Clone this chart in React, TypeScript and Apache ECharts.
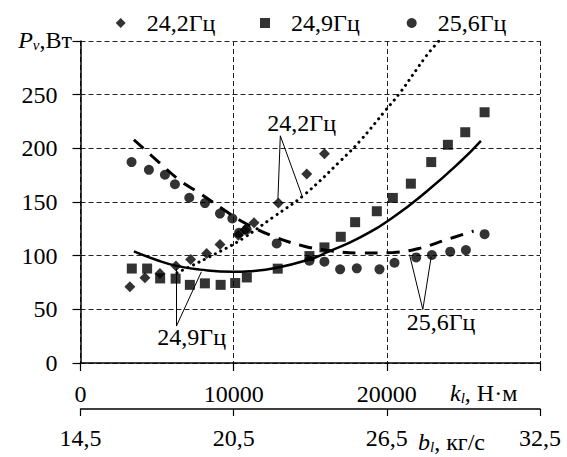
import React, { useEffect, useRef } from "react";
import * as echarts from "echarts";

// ---- data ----
const NAME_A = "24,2Гц";
const NAME_B = "24,9Гц";
const NAME_C = "25,6Гц";

// 24,2 Гц (diamonds)
const K_A = [3224, 4205, 5185, 6231, 7190, 8235, 9107, 10305, 10741, 11329, 12919, 14771, 15926];
const P_A = [71, 79.5, 83.5, 90.3, 96.5, 102, 110.5, 119, 123.8, 130.6, 149, 176, 195];

// 24,9 Гц (squares)
const K_B = [3350, 4350, 5200, 6210, 7140, 8120, 9150, 10100, 10860, 12876, 14946, 15926, 16993, 17930, 19346, 20392, 21569, 22898, 23987, 25120, 26383];
const P_B = [88, 88, 78.8, 78.6, 72.8, 74.2, 72.8, 74.5, 79.7, 87.9, 99.6, 107.7, 117.6, 131.2, 141.4, 153.8, 167.1, 187.2, 203.3, 215, 233.6];

// 25,6 Гц (circles)
const K_C = [3333, 4466, 5512, 6165, 7102, 8126, 9107, 9913, 10349, 10850, 12810, 14946, 15926, 16950, 18039, 19521, 20501, 21917, 22941, 24139, 25163, 26383];
const P_C = [187.2, 180, 175.4, 166.5, 154, 149, 139.2, 134.6, 121.3, 124.4, 111.4, 95.3, 94.4, 87.3, 88.2, 87.3, 93.4, 98.4, 100.6, 103.7, 105.2, 120];

// trend lines
const TREND_A_K = [6300, 7456, 8434, 9522, 10607, 12593, 14553, 16950, 18257, 19891, 20871, 22570, 23400];
const TREND_A_P = [84, 92, 99, 107, 116, 136, 156, 188, 207, 235, 252, 286, 300];
const TREND_B_K = [3486, 4967, 6275, 7800, 9978, 11068, 12810, 14989, 16078, 18257, 20436, 22614, 24793, 26144];
const TREND_B_P = [104, 96, 90.5, 87, 85, 85.5, 88.7, 96.7, 103, 117, 136, 160, 187.5, 207];
const TREND_C_K = [3486, 5120, 6492, 7800, 9434, 10784, 12593, 14553, 16078, 18257, 20436, 22179, 23704, 25664];
const TREND_C_P = [208, 187, 170, 158, 142, 130, 118, 109, 105, 102.5, 103, 107, 114, 123];

// axis ranges / ticks
const X_MIN = 0;
const X_MAX = 30000;
const X_STEP = 10000;
const Y_MIN = 0;
const Y_MAX = 300;
const Y_STEP = 50;
const B_START = 14.5; // кг/с at k = 0
const B_PER_K = 6 / 10000;

// leader lines of the annotations (data coordinates)
const LEADERS_A = [[[13046, 211.7], [12890, 153]], [[13046, 211.7], [14481, 155.1]]];
const LEADERS_B = [[[6262, 34.4], [6262, 88]], [[6262, 34.4], [7893, 85]]];
const LEADERS_C = [[[22350, 49.9], [21481, 101]], [[22350, 49.9], [22896, 99]]];

const FONT = "Liberation Serif, Times New Roman, Tinos, DejaVu Serif, serif";
const INK = "#000";

const zip = (k: number[], p: number[]) => k.map((v, i) => [v, p[i]]);

export default function App() {
  const ref = useRef<HTMLDivElement>(null);

  useEffect(() => {
    if (!ref.current) return;
    const chart = echarts.init(ref.current, undefined, { renderer: "svg" });

    const txt = { fontFamily: FONT, fontSize: 24, color: INK };
    const leaderStyle = { color: "#000", width: 1, type: "solid" as const };
    const mkLeaders = (arr: number[][][]) => ({
      silent: true,
      symbol: ["none", "none"],
      label: { show: false },
      lineStyle: leaderStyle,
      emphasis: { disabled: true },
      data: arr.map((seg) => [{ coord: seg[0] }, { coord: seg[1] }]),
    });
    const richSub = (x: number, y: number, main: string, sub: string, rest: string, align: string) => ({
      type: "text",
      x,
      y,
      silent: true,
      style: {
        text: `{i|${main}}{s|${sub}}{n|${rest}}`,
        align,
        verticalAlign: "middle",
        rich: {
          i: { fontFamily: FONT, fontSize: 24, fontStyle: "italic", fill: INK, lineHeight: 26, verticalAlign: "bottom" },
          s: { fontFamily: FONT, fontSize: 15, fontStyle: "italic", fill: INK, lineHeight: 12, verticalAlign: "bottom" },
          n: { fontFamily: FONT, fontSize: 24, fill: INK, lineHeight: 26, verticalAlign: "bottom" },
        },
      },
    });
    const plainText = (x: number, y: number, s: string) => ({
      type: "text",
      x,
      y,
      silent: true,
      style: { text: s, fontFamily: FONT, fontSize: 24, fill: INK, align: "center", verticalAlign: "middle" },
    });

    const legendBase = {
      top: 11,
      itemWidth: 10,
      itemHeight: 10,
      textStyle: { ...txt, padding: [0, 0, 0, 16] },
      selectedMode: false,
      padding: 0,
    };

    chart.setOption({
      animation: false,
      backgroundColor: "#fff",
      textStyle: { fontFamily: FONT },
      legend: [
        { ...legendBase, left: 115.7, data: [NAME_A] },
        { ...legendBase, left: 260, data: [NAME_B] },
        { ...legendBase, left: 406.7, data: [NAME_C] },
      ],
      grid: { left: 80.5, right: 27, top: 41, bottom: 94, containLabel: false },
      xAxis: [
        {
          type: "value",
          min: X_MIN,
          max: X_MAX,
          interval: X_STEP,
          position: "bottom",
          axisLine: { show: true, onZero: false, lineStyle: { color: "#000", width: 1.5 } },
          axisTick: { show: true, length: 8, lineStyle: { color: "#000", width: 1.2 } },
          axisLabel: {
            ...txt,
            margin: 19,
            formatter: (v: number) => (v === X_MAX ? "" : String(v)),
          },
          splitLine: { show: true, lineStyle: { color: "#222", width: 1, type: [5, 3] } },
        },
        {
          type: "value",
          min: X_MIN,
          max: X_MAX,
          interval: X_STEP,
          position: "bottom",
          offset: 46,
          axisLine: { show: true, onZero: false, lineStyle: { color: "#000", width: 1.5 } },
          axisTick: { show: true, length: 7, lineStyle: { color: "#000", width: 1.2 } },
          axisLabel: {
            ...txt,
            margin: 17,
            formatter: (v: number) => (B_START + v * B_PER_K).toFixed(1).replace(".", ","),
          },
          splitLine: { show: false },
        },
      ],
      yAxis: {
        type: "value",
        min: Y_MIN,
        max: Y_MAX,
        interval: Y_STEP,
        axisLine: { show: true, onZero: false, lineStyle: { color: "#000", width: 1.5 } },
        axisTick: { show: true, length: 8, lineStyle: { color: "#000", width: 1.2 } },
        axisLabel: {
          ...txt,
          margin: 23,
          formatter: (v: number) => (v === Y_MAX ? "" : String(v)),
        },
        splitLine: { show: true, lineStyle: { color: "#222", width: 1, type: [5, 3] } },
      },
      series: [
        {
          name: "trendA",
          type: "line",
          data: zip(TREND_A_K, TREND_A_P),
          smooth: 0.4,
          showSymbol: false,
          symbol: "none",
          clip: true,
          silent: true,
          z: 2,
          lineStyle: { color: "#000", width: 3, type: [0.1, 6], cap: "round" },
          markLine: mkLeaders(LEADERS_A),
        },
        {
          name: "trendB",
          type: "line",
          data: zip(TREND_B_K, TREND_B_P),
          smooth: 0.5,
          showSymbol: false,
          symbol: "none",
          silent: true,
          z: 2,
          lineStyle: { color: "#000", width: 2.5, type: "solid" },
          markLine: mkLeaders(LEADERS_B),
        },
        {
          name: "trendC",
          type: "line",
          data: zip(TREND_C_K, TREND_C_P),
          smooth: 0.4,
          showSymbol: false,
          symbol: "none",
          silent: true,
          z: 2,
          lineStyle: { color: "#000", width: 3, type: [13, 9] },
          markLine: mkLeaders(LEADERS_C),
        },
        {
          name: NAME_A,
          type: "scatter",
          symbol: "diamond",
          symbolSize: 11,
          itemStyle: { color: "#000" },
          data: zip(K_A, P_A),
          z: 5,
        },
        {
          name: NAME_B,
          type: "scatter",
          symbol: "rect",
          symbolSize: 10,
          itemStyle: { color: "#000" },
          data: zip(K_B, P_B),
          z: 5,
        },
        {
          name: NAME_C,
          type: "scatter",
          symbol: "circle",
          symbolSize: 10,
          itemStyle: { color: "#000" },
          data: zip(K_C, P_C),
          z: 5,
        },
      ],
      graphic: [
        richSub(72, 39, "P", "v", ",Вт", "right"),
        richSub(450, 392, "k", "l", ", Н·м", "left"),
        richSub(418, 441, "b", "l", ", кг/с", "left"),
        plainText(301.7, 123, NAME_A),
        plainText(191.7, 337, NAME_B),
        plainText(441, 321.5, NAME_C),
      ],
    });

    return () => chart.dispose();
  }, []);

  return <div ref={ref} style={{ position: "fixed", left: 0, top: 0, width: 567, height: 457 }} />;
}
